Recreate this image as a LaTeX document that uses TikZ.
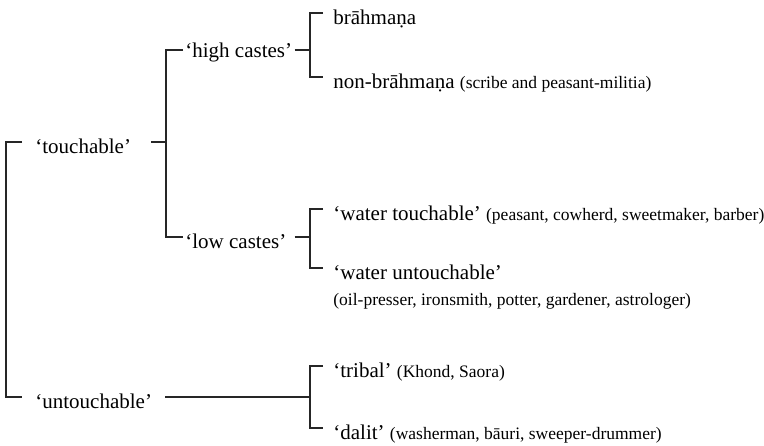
\documentclass[tikz,border=0pt]{standalone}
\usepackage{fontspec}
\setmainfont{Liberation Serif}
\usetikzlibrary{calc}

\newcommand{\mainsz}{\fontsize{10.5}{12}\selectfont}
\newcommand{\sml}{\fontsize{8.75}{10}\selectfont}
\tikzset{
  lbl/.style={anchor=west, inner sep=0pt, text height=11pt, text depth=0pt, font=\mainsz},
  brk/.style={line width=0.65pt, draw=black!85}
}

\begin{document}
\begin{tikzpicture}[x=0.5pt, y=-0.5pt]
\useasboundingbox (0,0) rectangle (764,445);
% Columns
\coordinate (c1) at (6,0); \coordinate (c2) at (166,0); \coordinate (c3) at (310,0);

% Labels
\node[lbl] (touch) at (35,142) {‘touchable’};
\node[lbl] (untouch) at (35,397) {‘untouchable’};
\node[lbl, text height=7.3pt] (high) at (185,50) {‘high castes’};
\node[lbl] (low) at (185,237) {‘low castes’};
\node[lbl] (brah) at (333,13) {brāhmaṇa};
\node[lbl] (nonbrah) at (333,77) {non-brāhmaṇa {\sml(scribe and peasant-militia)}};
\node[lbl] (wtouch) at (333,209) {‘water touchable’ {\sml(peasant, cowherd, sweetmaker, barber)}};
\node[lbl] (wuntouch) at (333,268) {‘water untouchable’};
\node[anchor=base west, inner sep=0pt, font=\sml] (oil) at (333,305) {(oil-presser, ironsmith, potter, gardener, astrologer)};
\node[lbl] (tribal) at (333,366) {‘tribal’ {\sml(Khond, Saora)}};
\node[lbl] (dalit) at (333,428) {‘dalit’ {\sml(washerman, bāuri, sweeper-drummer)}};

% Brackets
\draw[brk] ($(touch.west)+(-13,0)$) -- (touch.west -| c1) -- (untouch.west -| c1) -- ($(untouch.west)+(-13,0)$);
\draw[brk] ($(touch.east)+(20,0)$) -- (touch.east -| c2);
\draw[brk] ($(high.west)+(-2,0)$) -- (high.west -| c2) -- (low.west -| c2) -- ($(low.west)+(-2,0)$);
\draw[brk] ($(high.east)+(2,0)$) -- (high.east -| c3);
\draw[brk] ($(brah.west)+(-10,0)$) -- (brah.west -| c3) -- (nonbrah.west -| c3) -- ($(nonbrah.west)+(-10,0)$);
\draw[brk] ($(low.east)+(8,0)$) -- (low.east -| c3);
\draw[brk] ($(wtouch.west)+(-10,0)$) -- (wtouch.west -| c3) -- (wuntouch.west -| c3) -- ($(wuntouch.west)+(-10,0)$);
\draw[brk] ($(untouch.east)+(13,0)$) -- (untouch.east -| c3);
\draw[brk] ($(tribal.west)+(-10,0)$) -- (tribal.west -| c3) -- (dalit.west -| c3) -- ($(dalit.west)+(-10,0)$);
\end{tikzpicture}
\end{document}
